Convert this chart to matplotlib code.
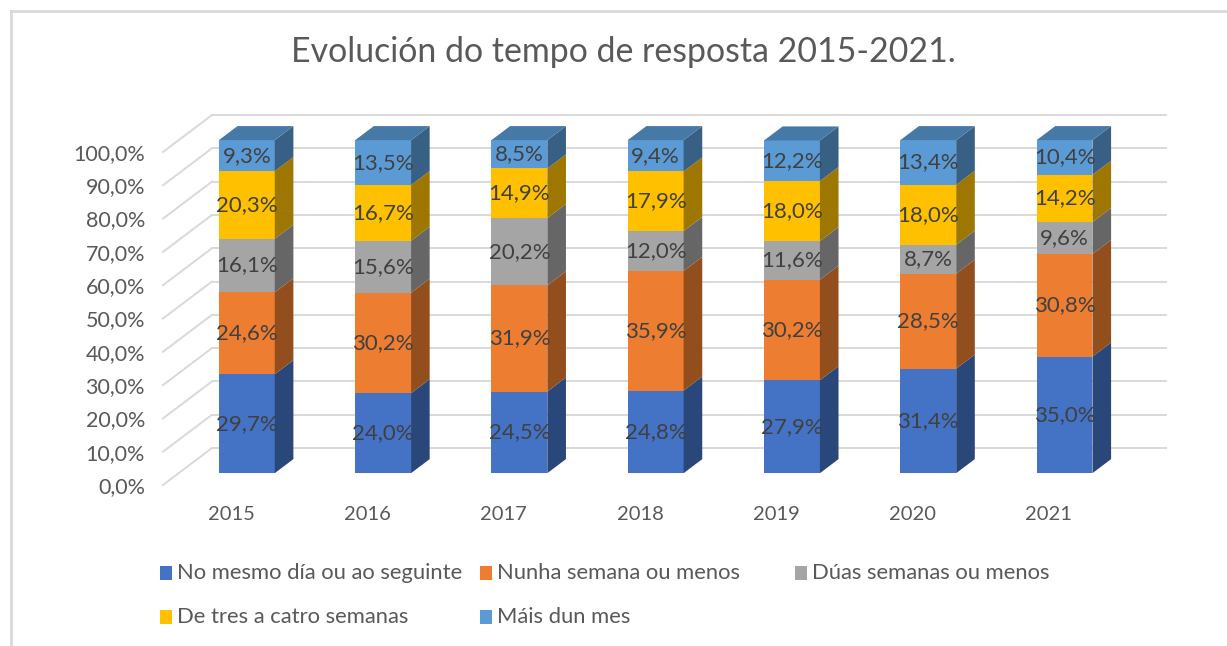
import numpy as np
import matplotlib
matplotlib.use("Agg")
import matplotlib.pyplot as plt
from matplotlib.patches import Polygon, Rectangle
from matplotlib.lines import Line2D
from matplotlib.colors import to_rgb

plt.rcParams['font.family'] = ['Lato', 'DejaVu Sans']

# datos (%)
anos = ['2015', '2016', '2017', '2018', '2019', '2020', '2021']
series = ['No mesmo día ou ao seguinte', 'Nunha semana ou menos', 'Dúas semanas ou menos',
          'De tres a catro semanas', 'Máis dun mes']
mesmo_dia = [29.7, 24.0, 24.5, 24.8, 27.9, 31.4, 35.0]
unha_semana = [24.6, 30.2, 31.9, 35.9, 30.2, 28.5, 30.8]
duas_semanas = [16.1, 15.6, 20.2, 12.0, 11.6, 8.7, 9.6]
tres_catro = [20.3, 16.7, 14.9, 17.9, 18.0, 18.0, 14.2]
mais_mes = [9.3, 13.5, 8.5, 9.4, 12.2, 13.4, 10.4]
cores = ['#4472C4', '#ED7D31', '#A5A5A5', '#FFC000', '#5B9BD5']
valores = [mesmo_dia, unha_semana, duas_semanas, tres_catro, mais_mes]


def escurecer(c, f):
    r, g, b = to_rgb(c)
    return (r * f, g * f, b * f)


W, H = 1227, 646
fig = plt.figure(figsize=(W / 100, H / 100), dpi=100)

# profundidade 3D en unidades de datos
DX = 0.3595
DY = 11.1
d0, d1 = 0.32, 0.70
ancho = 0.41

# eixo colocado en pixeles
left, right, top, bottom = 163, 1166, 115, 485
ax = fig.add_axes([left / W, 1 - bottom / H, (right - left) / W, (bottom - top) / H])
ax.set_xlim(-0.5, 6.5 + DX)
ax.set_ylim(0, 100 + DY)
for s in ax.spines.values():
    s.set_visible(False)

grid_c = '#D9D9D9'
for v in range(0, 101, 10):
    ax.plot([-0.5, -0.5 + DX], [v, v + DY], color=grid_c, lw=1.4, zorder=1, clip_on=False)
    ax.plot([-0.5 + DX, 6.5 + DX], [v + DY, v + DY], color=grid_c, lw=1.4, zorder=1, clip_on=False)

x = np.arange(len(anos))
acum = np.zeros(len(anos))
ddx, ddy = (d1 - d0) * DX, (d1 - d0) * DY
for k, (vals, cor) in enumerate(zip(valores, cores)):
    vals = np.array(vals)
    xc = x + d0 * DX
    yb = acum + d0 * DY
    ax.bar(xc, vals, bottom=yb, width=ancho, color=cor, zorder=3, linewidth=0)
    for i in range(len(anos)):
        xr = xc[i] + ancho / 2
        b, t = yb[i], yb[i] + vals[i]
        ax.add_patch(Polygon([(xr, b), (xr + ddx, b + ddy), (xr + ddx, t + ddy), (xr, t)],
                             closed=True, facecolor=escurecer(cor, 0.62), lw=0, zorder=3))
        if k == len(valores) - 1:
            xl = xc[i] - ancho / 2
            ax.add_patch(Polygon([(xl, t), (xr, t), (xr + ddx, t + ddy), (xl + ddx, t + ddy)],
                                 closed=True, facecolor=escurecer(cor, 0.78), lw=0, zorder=3))
        ax.text(xc[i], b + vals[i] / 2, f'{vals[i]:.1f}%'.replace('.', ','),
                ha='center', va='center', fontsize=16, color='#404040', zorder=4)
    acum = acum + vals

ax.set_yticks(range(0, 101, 10))
ax.set_yticklabels([f'{v},0%' for v in range(0, 101, 10)])
ax.set_xticks(x)
ax.set_xticklabels(anos)
ax.tick_params(axis='y', length=0, pad=13, labelsize=15.5, labelcolor='#595959')
ax.tick_params(axis='x', length=0, pad=15, labelsize=14.5, labelcolor='#595959')

fig.text(623 / W, 1 - 52 / H, 'Evolución do tempo de resposta 2015-2021.',
         ha='center', va='center', fontsize=24.4, color='#595959')

# lenda
pos = [(160, 573), (480, 573), (795, 573), (160, 617), (480, 617)]
for (px, py), nome, cor in zip(pos, series, cores):
    fig.patches.append(Rectangle((px / W, 1 - (py + 7) / H), 12 / W, 14 / H,
                                 transform=fig.transFigure, facecolor=cor, lw=0))
    fig.text((px + 17) / W, 1 - py / H, nome, ha='left', va='center',
             fontsize=15.8, color='#595959')

# bordo
fig.add_artist(Line2D([11 / W, 11 / W], [0, 1 - 11 / H], color='#D9D9D9', lw=2))
fig.add_artist(Line2D([11 / W, 1], [1 - 11 / H, 1 - 11 / H], color='#D9D9D9', lw=2))

fig.savefig('out.png', dpi=100)
